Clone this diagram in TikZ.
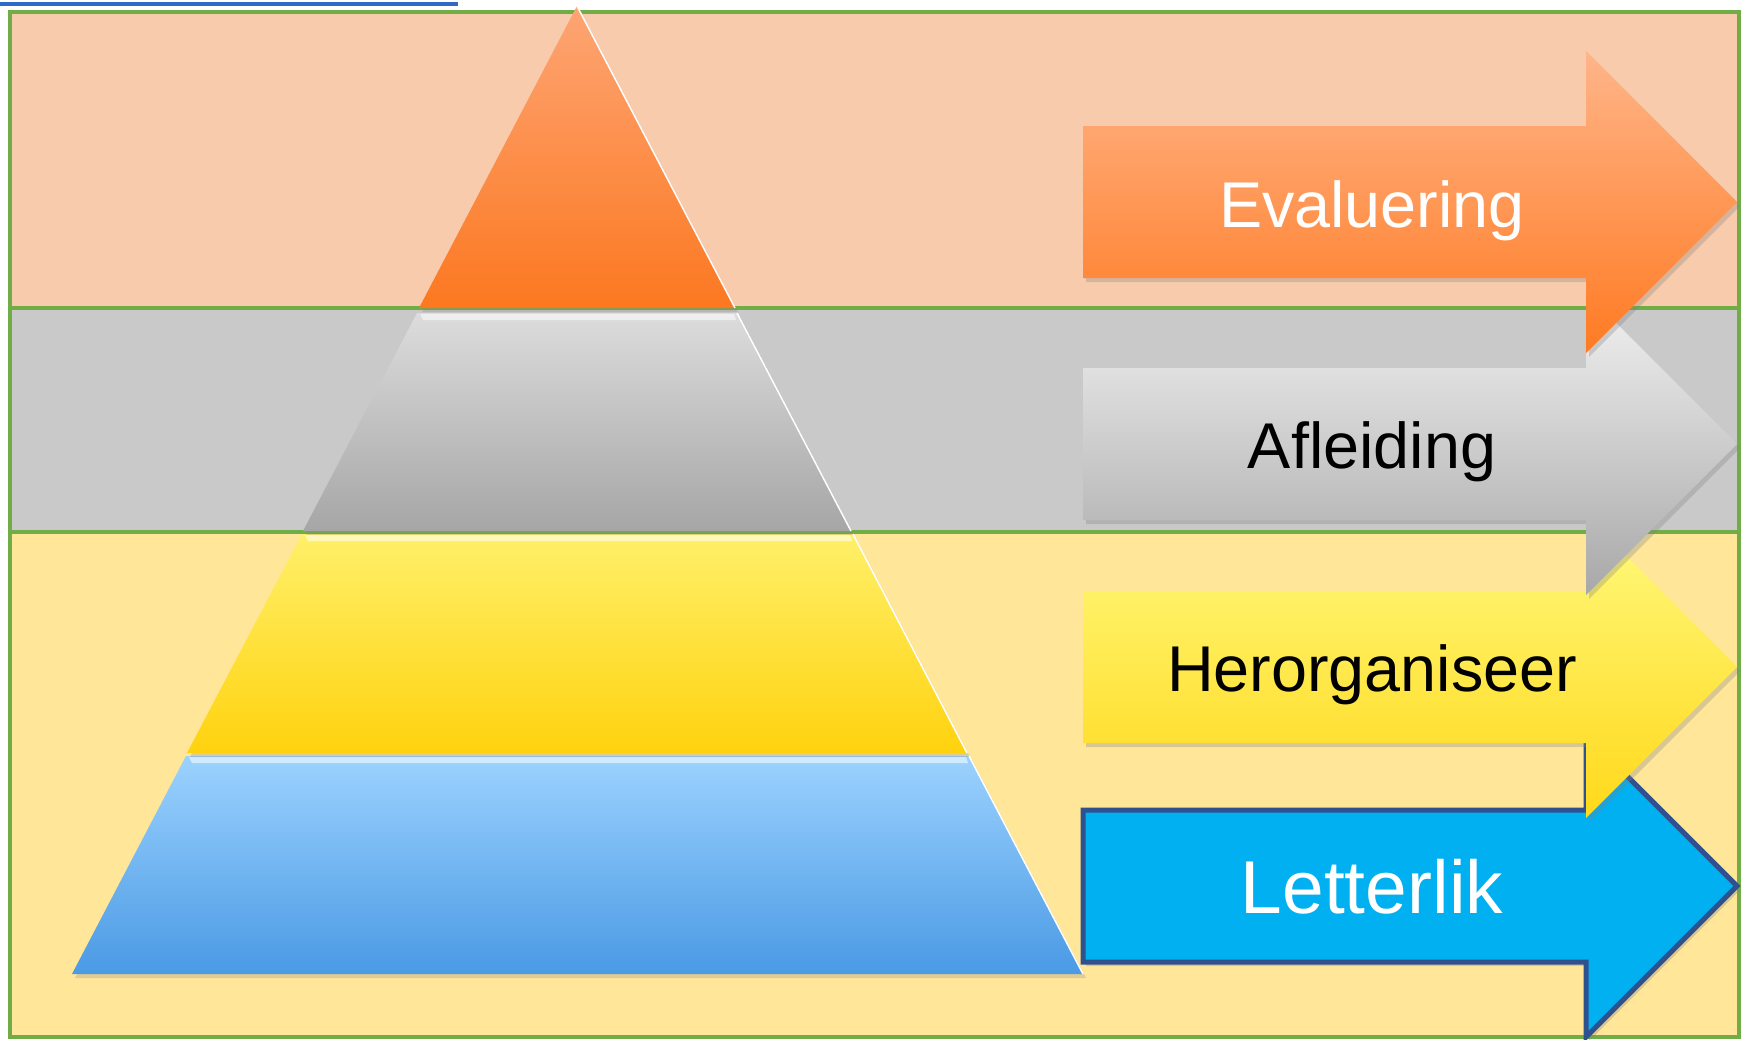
\documentclass[tikz,border=0pt]{standalone}
\usepackage{fontspec}
\setmainfont{Liberation Sans}
\usetikzlibrary{shadows}

\definecolor{frameGreen}{HTML}{70AD47}
\definecolor{linkBlue}{HTML}{2E6BC6}
\definecolor{bandOrange}{HTML}{F8CBAD}
\definecolor{bandGray}{HTML}{C9C9C9}
\definecolor{bandYellow}{HTML}{FFE699}
\definecolor{letterBlue}{HTML}{00B0F0}
\definecolor{letterEdge}{HTML}{2F528F}

\begin{document}
\begin{tikzpicture}[x=0.01cm, y=-0.01cm,
    greenline/.style={frameGreen, line width=0.045cm},
    layer/.style={drop shadow={shadow xshift=0.03cm, shadow yshift=-0.04cm, opacity=0.25}},
    levelarrow/.style={drop shadow={shadow xshift=0.03cm, shadow yshift=-0.04cm, opacity=0.3}},
    shine/.style={white, opacity=0.55},
    levellabel/.style={anchor=base, font=\fontsize{18.4}{22}\selectfont}]
    \useasboundingbox (0,0) rectangle (1742,1039);
    % Link remnant
    \draw[linkBlue, line width=0.035cm] (0,4) -- (458,4);
    % Bands
    \fill[bandOrange] (10,12) rectangle (1739,308);
    \fill[bandGray] (10,308) rectangle (1739,532);
    \fill[bandYellow] (10,532) rectangle (1739,1037);
    \draw[greenline] (10,308) -- (1739,308);
    \draw[greenline] (10,532) -- (1739,532);
    \draw[greenline] (10,12) rectangle (1739,1037);
    % Pyramid
    \path[layer, top color={rgb,255:red,156;green,210;blue,254}, bottom color={rgb,255:red,74;green,154;blue,229}]
        (186,756) -- (969,756) -- (1083,974) -- (72,974) -- cycle;
    \path[layer, top color={rgb,255:red,255;green,240;blue,106}, bottom color={rgb,255:red,255;green,210;blue,14}]
        (302,534) -- (853,534) -- (967,753) -- (187,753) -- cycle;
    \path[layer, top color={rgb,255:red,220;green,220;blue,220}, bottom color={rgb,255:red,166;green,166;blue,166}]
        (417,313) -- (737,313) -- (851,531) -- (303,531) -- cycle;
    \path[layer, top color={rgb,255:red,253;green,165;blue,116}, bottom color={rgb,255:red,252;green,120;blue,32}]
        (577,6) -- (735,308) -- (419,308) -- cycle;
    % Highlights
    \fill[shine] (189,757) -- (966,757) -- (968,763) -- (192,763) -- cycle;
    \fill[shine] (305,535) -- (850,535) -- (852,541) -- (308,541) -- cycle;
    \fill[shine] (420,314) -- (734,314) -- (736,320) -- (423,320) -- cycle;
    \draw[white, line width=0.015cm] (577,6) -- (735,308) (737,313) -- (851,531) (853,534) -- (967,753) (969,756) -- (1083,974);
    % Arrows
    \path[levelarrow, fill=letterBlue, draw=letterEdge, line width=0.05cm]
        (1083,810) -- (1586,810) -- (1586,735) -- (1737,886) -- (1586,1037) -- (1586,962) -- (1083,962) -- cycle;
    \path[levelarrow, top color={rgb,255:red,255;green,250;blue,128}, bottom color={rgb,255:red,255;green,216;blue,26}]
        (1083,591) -- (1586,591) -- (1586,516) -- (1737,667) -- (1586,818) -- (1586,743) -- (1083,743) -- cycle;
    \path[levelarrow, top color={rgb,255:red,242;green,242;blue,242}, bottom color={rgb,255:red,168;green,168;blue,168}]
        (1083,368) -- (1586,368) -- (1586,293) -- (1737,444) -- (1586,595) -- (1586,520) -- (1083,520) -- cycle;
    \path[levelarrow, top color={rgb,255:red,255;green,181;blue,138}, bottom color={rgb,255:red,255;green,122;blue,34}]
        (1083,126) -- (1586,126) -- (1586,51) -- (1737,202) -- (1586,353) -- (1586,278) -- (1083,278) -- cycle;
    \node[levellabel, white] (evaluering) at (1372,227) {Evaluering};
    \node[levellabel] (afleiding) at (1372,468) {Afleiding};
    \node[levellabel] (herorganiseer) at (1372,691) {Herorganiseer};
    \node[levellabel, white, font=\fontsize{21.3}{25}\selectfont] (letterlik) at (1372,913) {Letterlik};
\end{tikzpicture}
\end{document}
